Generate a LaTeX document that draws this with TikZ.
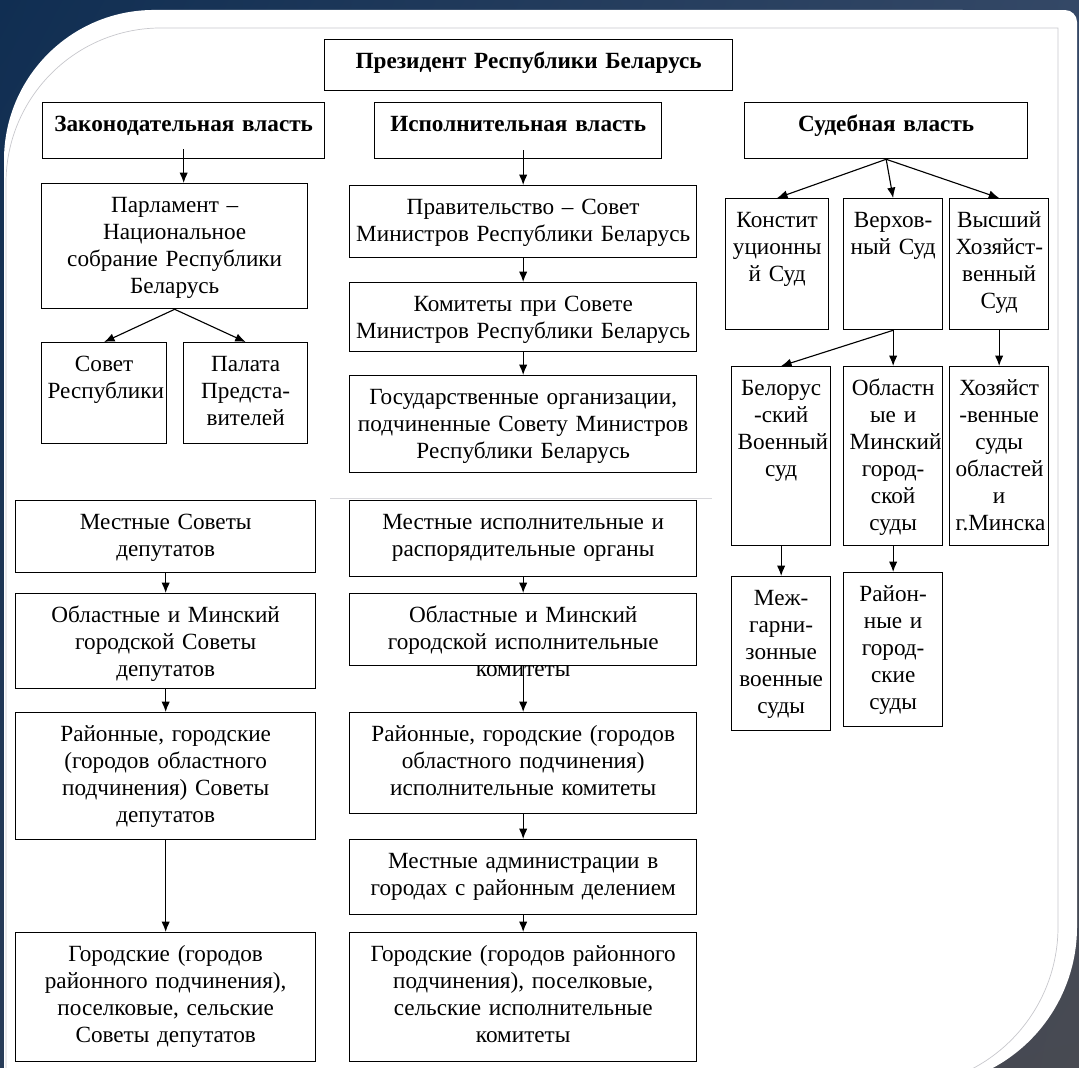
\documentclass[tikz,border=0pt]{standalone}
\usepackage{fontspec}
\setmainfont{Liberation Serif}
\usetikzlibrary{arrows.meta,calc,shadings}

\definecolor{bgnavy}{RGB}{16,46,82}
\definecolor{bgblue}{RGB}{52,72,102}
\definecolor{bgslate}{RGB}{40,60,88}
\definecolor{bggray}{RGB}{72,74,82}
\definecolor{framegray}{RGB}{200,200,205}

\begin{document}
\begin{tikzpicture}[x=0.025cm, y=-0.025cm,
    every node/.style={font=\fontsize{16.5}{19.2}\selectfont},
    box/.style={draw, line width=0.9pt, anchor=north west, inner xsep=0.15cm,
      inner ysep=0pt, align=center, text height=0.72cm},
    head/.style={box, font=\fontsize{16.5}{19.2}\selectfont\bfseries},
    arr/.style={-{Latex[length=0.26cm,width=0.21cm]}, line width=0.8pt}]

    % Background
    \useasboundingbox (0,0) rectangle (1079,1067);
    \shade[upper left=bgnavy, upper right=bgblue, lower left=bgslate, lower right=bggray]
      (0,0) rectangle (1079,1067);
    \fill[white] (4,1120) -- (4,160) arc[start angle=180, end angle=90, radius=3.75cm]
      -- (1065,10) arc[start angle=90, end angle=0, radius=0.3cm]
      -- (1077,927) arc[start angle=0, end angle=-75, radius=4cm] -- cycle;
    \draw[framegray, line width=0.5pt] (6,1120) -- (6,183)
      arc[start angle=180, end angle=90, radius=3.875cm]
      -- (1058,28) -- (1058,927) arc[start angle=0, end angle=-75, radius=4cm];
    \draw[framegray!70, line width=0.5pt] (330,498) -- (712,498);

    % Top
    \node[head, text width=9.9cm, text depth=0.555cm] (pres) at (324,39) {Президент Республики Беларусь};
    \node[head, text width=6.75cm, text depth=0.68cm] (zak) at (42,102) {Законодательная власть};
    \node[head, text width=6.875cm, text depth=0.68cm] (isp) at (374,102) {Исполнительная власть};
    \node[head, text width=6.775cm, text depth=0.68cm] (sud) at (744,102) {Судебная власть};

    % Legislative
    \node[box, text width=6.35cm, text depth=2.405cm] (par) at (41,183) {Парламент –\\Национальное\\собрание Республики\\Беларусь};
    \node[box, text width=2.825cm, text depth=1.805cm] (sovet) at (41,342) {Совет\\Республики};
    \node[box, text width=2.8cm, text depth=1.805cm] (palata) at (183,342) {Палата\\\mbox{Предста-}\\вителей};
    \node[box, text width=7.2cm, text depth=1.08cm] (mest) at (15,500) {Местные Советы\\депутатов};
    \node[box, text width=7.2cm, text depth=1.655cm] (oblsov) at (15,593) {Областные и Минский\\городской Советы\\депутатов};
    \node[box, text width=7.2cm, text depth=2.455cm] (raysov) at (15,712) {Районные, городские\\(городов областного\\подчинения) Советы\\депутатов};
    \node[box, text width=7.2cm, text depth=2.505cm] (gorsov) at (15,932) {Городские (городов\\районного подчинения),\\поселковые, сельские\\Советы депутатов};

    % Executive
    \node[box, text width=8.375cm, text depth=1.08cm] (prav) at (349,185) {Правительство – Совет\\Министров Республики Беларусь};
    \node[box, text width=8.375cm, text depth=1.005cm] (komit) at (349,282) {Комитеты при Совете\\Министров Республики Беларусь};
    \node[box, text width=8.375cm, text depth=1.705cm] (gosorg) at (349,375) {Государственные организации,\\подчиненные Совету Министров\\Республики Беларусь};
    \node[box, text width=8.375cm, text depth=1.18cm] (mestisp) at (349,500) {Местные исполнительные и\\распорядительные органы};
    \node[box, text width=8.375cm, text depth=1.08cm] (oblisp) at (349,593) {Областные и Минский\\городской исполнительные\\комитеты};
    \node[box, text width=8.375cm, text depth=1.805cm] (rayisp) at (349,712) {Районные, городские (городов\\областного подчинения)\\исполнительные комитеты};
    \node[box, text width=8.375cm, text depth=1.155cm] (admin) at (349,839) {Местные администрации в\\городах с районным делением};
    \node[box, text width=8.375cm, text depth=2.505cm] (gorisp) at (349,932) {Городские (городов районного\\подчинения), поселковые,\\сельские исполнительные\\комитеты};

    % Judicial
    \node[box, text width=2.275cm, text depth=2.555cm] (konst) at (725,198) {Констит\\уционны\\й~Суд};
    \node[box, text width=2.175cm, text depth=2.555cm] (verh) at (843,198) {\mbox{Верхов-}\\ный~Суд};
    \node[box, text width=2.175cm, text depth=2.555cm] (vysh) at (949,198) {Высший\\\mbox{Хозяйст-}\\венный\\Суд};
    \node[box, text width=2.175cm, text depth=3.755cm] (belvoen) at (731,366) {Белорус\\-ский\\Военный\\суд};
    \node[box, text width=2.175cm, text depth=3.755cm] (oblsud) at (843,366) {Областн\\ые~и\\Минский\\\mbox{город-}\\ской\\суды};
    \node[box, text width=2.175cm, text depth=3.755cm] (hozsud) at (949,366) {Хозяйст\\-венные\\суды\\областей\\и\\г.Минска};
    \node[box, text width=2.175cm, text depth=3.13cm] (mezh) at (731,576) {\mbox{Меж-}\\\mbox{гарни-}\\зонные\\военные\\суды};
    \node[box, text width=2.175cm, text depth=3.13cm] (rayon) at (843,572) {\mbox{Район-}\\ные~и\\\mbox{город-}\\ские\\суды};

    % Connection
    \draw[arr] ($(zak.south)+(0,-10)$) -- (zak.south |- par.north);
    \draw[arr] (par.south) -- (sovet.north);
    \draw[arr] (par.south) -- (palata.north);
    \draw[arr] (mest) -- (oblsov);
    \draw[arr] (oblsov) -- (raysov);
    \draw[arr] (raysov) -- (gorsov);

    \draw[arr] ($(isp.south -| prav.north)+(0,-9)$) -- (prav.north);
    \draw[arr] (prav) -- (komit);
    \draw[arr] (komit) -- (gosorg);
    \draw[arr] (mestisp) -- (oblisp);
    \draw[arr] (oblisp) -- (rayisp);
    \draw[arr] (rayisp) -- (admin);
    \draw[arr] (admin) -- (gorisp);

    \draw[arr] (sud.south) -- (konst.north);
    \draw[arr] (sud.south) -- (verh.north);
    \draw[arr] (sud.south) -- (vysh.north);
    \draw[arr] (verh.south) -- (belvoen.north);
    \draw[arr] (verh.south) -- (oblsud.north);
    \draw[arr] (vysh) -- (hozsud);
    \draw[arr] (belvoen) -- (mezh);
    \draw[arr] (oblsud) -- (rayon);
\end{tikzpicture}
\end{document}
